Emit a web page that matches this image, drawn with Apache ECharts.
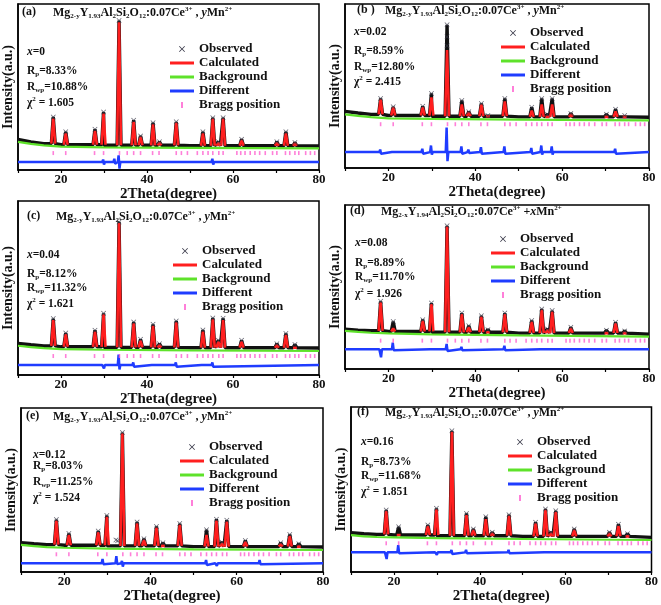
<!DOCTYPE html>
<html><head><meta charset="utf-8">
<script src="https://cdn.jsdelivr.net/npm/echarts@6/dist/echarts.min.js"></script>
<style>html,body{margin:0;padding:0;background:#fff}#c{width:661px;height:605px}</style>
</head><body><div id="c"></div>
<script>
// ---------------- DATA ----------------
const peakPos = [18.2, 21.1, 27.9, 29.9, 33.5, 36.9, 38.5, 41.4, 42.9, 46.8, 53.0, 55.3, 56.6, 57.7, 62.0, 70.2, 72.3, 74.4];
const braggPos = [18.2, 21.1, 27.8, 29.9, 33.6, 35.4, 36.9, 38.5, 41.3, 42.8, 46.8, 48.0, 49.4, 51.7, 53.0, 54.2, 55.3, 56.7, 57.7, 60.9, 61.8, 62.8, 64.0, 65.1, 66.2, 67.5, 69.2, 70.2, 72.2, 73.2, 74.4, 75.3, 76.9, 78.0, 79.0];
const bgX = [10, 13, 16, 20, 30, 50, 80];
const xTicks = [20, 40, 60, 80];

// (a) x = 0
const calcA = [31, 22, 23.5, 34, 89, 29, 20, 27.5, 16.5, 28.5, 22, 31, 16.5, 31, 18, 16.5, 22, 16];
const obsA = [32, 23, 24.5, 35, 90, 30, 20.5, 28.5, 17, 29, 23, 31.5, 17, 31.5, 18.5, 17, 23, 16.5];
const bgA = [16.9, 15.7, 14.8, 14.1, 13.6, 13.3, 13.0];
const baseA = [18.4, 16.9, 15.9, 15.2, 14.9, 14.6, 14.5];
const braggA = 10.2, diffA = 4.8;
const dPosA = [18.2, 21.1, 29.9, 32.5, 33.5, 36.9, 41.4, 46.8, 55.3, 57.7, 72.3];
const dUpA = [1, 1, 1.5, 2, 4, 1, 1, 1, 2, 1, 1];
const dDnA = [1, 0.8, 1.5, 1, 4, 1, 1, 1, 1.5, 1, 1];
const exXA = [], exYA = [];

// (b) x = 0.02
const calcB = [41.8, 37, 37, 43, 72, 38.8, 34, 38.8, 31.5, 40.6, 35, 38.8, 31.5, 38.8, 32.7, 31.5, 34.5, 31.5];
const obsB = [42.4, 37.3, 37.6, 45.5, 87.3, 41.2, 34.3, 39.4, 32, 42.4, 37, 42.4, 32.7, 42.4, 33.3, 32.7, 35.8, 32];
const bgB = [32.7, 31.8, 31, 30.3, 29.9, 29.5, 29.1];
const baseB = [34.5, 33.5, 32.7, 32, 31.6, 31.2, 30.9];
const braggB = 26.7, diffB = 9.7;
const dPosB = [18.2, 21.1, 27.9, 29.9, 33.5, 36.9, 38.5, 41.4, 46.8, 53.0, 55.3, 57.7, 62.0, 72.3];
const dUpB = [1.5, 1, 2, 4, 15, 3.5, 1.5, 3, 3.5, 2.5, 4, 3.5, 1, 2];
const dDnB = [1, 0.5, 1, 1.5, 5.5, 1, 0.5, 1, 1, 1, 1.5, 1.5, 0.5, 1];
const exXB = [33.5, 33.5], exYB = [80, 74.5];

// (c) x = 0.04
const calcC = [31.6, 23.4, 24.9, 34.9, 87.4, 29.7, 19.7, 28.3, 17.2, 30.3, 24.9, 32, 19.1, 31.6, 19.1, 17.2, 23, 16.7];
const obsC = [32.4, 24.2, 25.7, 35.5, 88, 30.5, 20.5, 29.1, 18, 31.1, 25.9, 32.8, 19.9, 32.6, 19.9, 18, 23.8, 17.5];
const bgC = [16.8, 16, 15.4, 14.9, 14.5, 14.1, 13.8];
const baseC = [18.2, 17.4, 16.7, 16.2, 15.9, 15.7, 15.5];
const braggC = 10.9, diffC = 5.7;
const dPosC = [18.2, 29.9, 33.5, 36.9, 41.4, 46.8, 53.0, 55.3];
const dUpC = [1, 1, 6, 1.5, 1, 1.5, 1, 1.5];
const dDnC = [1, 2, 2.5, 1, 1, 1, 1, 1];
const exXC = [], exYC = [];

// (d) x = 0.08
const calcD = [40.7, 24.8, 29.5, 39.6, 86.8, 33.5, 25.4, 31.9, 23.4, 33.5, 28.9, 36, 23.8, 35, 24.8, 23, 27.9, 22.6];
const obsD = [41.3, 28.9, 30.1, 40.2, 87.4, 34.1, 26.4, 32.5, 24, 34.1, 29.5, 36.6, 24.4, 35.6, 25.4, 23.6, 28.5, 23.2];
const bgD = [23.2, 22.6, 22.1, 21.7, 21.1, 20.5, 19.7];
const baseD = [24.2, 23.7, 23.3, 22.9, 22.4, 21.9, 21.2];
const braggD = 17.3, diffD = 12;
const dPosD = [18.2, 21.1, 29.9, 33.5, 36.9, 46.8, 55.3];
const dUpD = [0.5, 4, 1, 3.3, 1.5, 2.2, 1];
const dDnD = [4.9, 0.5, 1, 1, 0.5, 0.5, 1];
const exXD = [], exYD = [];

// (e) x = 0.12
const calcE = [31.3, 22.6, 24.2, 33.7, 84.6, 29.7, 19.5, 27, 17.1, 28.7, 22.6, 31.3, 17.5, 30.7, 18.5, 17.1, 22, 16.5];
const obsE = [32, 23.5, 25, 34.5, 85, 30.5, 20.3, 27.8, 17.8, 29.5, 25.8, 32.2, 18.2, 31.6, 19.2, 17.8, 22.8, 17.2];
const bgE = [16.5, 15.8, 15.2, 14.8, 14.3, 13.8, 13.4];
const baseE = [17.9, 17.2, 16.7, 16.3, 15.9, 15.5, 15.2];
const braggE = 10.8, diffE = 5.3;
const dPosE = [18.2, 29.0, 32.2, 33.5, 36.9, 41.4, 46.8, 53.0, 55.3, 65.4];
const dUpE = [1, 2.6, 4.4, 1.5, 1, 1, 1, 2, 1.2, 2];
const dDnE = [1, 0.5, 0.5, 2, 0.5, 0.5, 0.5, 1, 1.5, 0.5];
const exXE = [32.0, 32.4], exYE = [19.5, 19];

// (f) x = 0.16
const calcF = [37, 22.8, 27.9, 38, 85, 34.5, 25.5, 32.1, 23.5, 34.1, 29.5, 37.6, 23.5, 36.5, 25.5, 23.5, 27.9, 22.6];
const obsF = [37.6, 27.4, 28.5, 38.6, 85.6, 35.5, 26.1, 33.5, 24.1, 34.7, 30.1, 38.2, 24.1, 37.1, 26.1, 24.1, 28.9, 23.2];
const bgF = [22.4, 21.6, 21.2, 21, 20.5, 20, 19.4];
const baseF = [23.8, 23.2, 22.8, 22.4, 22, 21.6, 21];
const braggF = 17.4, diffF = 11.9;
const dPosF = [18.2, 21.1, 29.9, 33.5, 36.9, 46.8, 55.3, 72.3];
const dUpF = [0.5, 4.4, 0.5, 1.5, 1.5, 1.5, 1, 1];
const dDnF = [4, 0.5, 1.5, 1, 0.5, 0.5, 0.5, 0.5];
const exXF = [], exYF = [];

// Text
const tags = ['(a)', '(b )', '(c)', '(d)', '(e)', '(f)'];
const xVals = ['0', '0.02', '0.04', '0.08', '0.12', '0.16'];
const rpVals = ['8.33%', '8.59%', '8.12%', '8.89%', '8.03%', '8.73%'];
const rwpVals = ['10.88%', '12.80%', '11.32%', '11.70%', '11.25%', '11.68%'];
const chiVals = ['1.605', '2.415', '1.621', '1.926', '1.524', '1.851'];
const legendNames = ['Observed', 'Calculated', 'Background', 'Different', 'Bragg position'];

// ---------------- LAYOUT ----------------
const FONT = '"Liberation Serif", "DejaVu Serif", serif';
const RED = '#ff1f1f', GREEN = '#5ee22a', BLUE = '#1f3cff', PINK = '#ff5fcf', BLACK = '#111';
const XPATH = 'path://M0,1L1,0L5,4L9,0L10,1L6,5L10,9L9,10L5,6L1,10L0,9L4,5Z';
const HALF = 0.45;

const panels = [
  {calc: calcA, obs: obsA, bg: bgA, base: baseA, bragg: braggA, diff: diffA, dPos: dPosA, dUp: dUpA, dDn: dDnA, exX: exXA, exY: exYA,
   grid: {left: 16, top: 4, width: 303, height: 166}, nameGap: 16, yGap: 3,
   tag: [22, 6], formula: 53, ann: [27, [46, 65, 81, 96]], leg: [170, 42], formulaType: 0},
  {calc: calcB, obs: obsB, bg: bgB, base: baseB, bragg: braggB, diff: diffB, dPos: dPosB, dUp: dUpB, dDn: dDnB, exX: exXB, exY: exYB,
   grid: {left: 345, top: 4, width: 304, height: 164}, nameGap: 16, yGap: 3,
   tag: [357, 4], formula: 385, ann: [354, [26, 45, 61, 75]], leg: [501, 26], formulaType: 0},
  {calc: calcC, obs: obsC, bg: bgC, base: baseC, bragg: braggC, diff: diffC, dPos: dPosC, dUp: dUpC, dDn: dDnC, exX: exXC, exY: exYC,
   grid: {left: 16, top: 201, width: 303, height: 174}, nameGap: 15, yGap: 3,
   tag: [27, 210], formula: 56, ann: [27, [249, 268, 282, 297]], leg: [173, 244], formulaType: 0},
  {calc: calcD, obs: obsD, bg: bgD, base: baseD, bragg: braggD, diff: diffD, dPos: dPosD, dUp: dUpD, dDn: dDnD, exX: exXD, exY: exYD,
   grid: {left: 345, top: 205, width: 304, height: 164}, nameGap: 15, yGap: 3,
   tag: [350, 205], formula: 381, ann: [355, [237, 257, 271, 287]], leg: [491, 232], formulaType: 1},
  {calc: calcE, obs: obsE, bg: bgE, base: baseE, bragg: braggE, diff: diffE, dPos: dPosE, dUp: dUpE, dDn: dDnE, exX: exXE, exY: exYE,
   grid: {left: 21, top: 408, width: 302, height: 164}, nameGap: 15, yGap: 3,
   tag: [26, 410], formula: 53, ann: [33, [449, 460, 476, 491]], leg: [180, 440], formulaType: 0},
  {calc: calcF, obs: obsF, bg: bgF, base: baseF, bragg: braggF, diff: diffF, dPos: dPosF, dUp: dUpF, dDn: dDnF, exX: exXF, exY: exYF,
   grid: {left: 351, top: 407, width: 302, height: 165}, nameGap: 16, yGap: 3,
   tag: [357, 406], formula: 385, ann: [361, [436, 456, 470, 485]], leg: [508, 435], formulaType: 0}
];

// ---------------- BUILD ----------------
function stepBase(base, x) {
  let v = base[0];
  for (let i = 0; i < bgX.length; i++) if (bgX[i] <= x) v = base[i];
  return v;
}
function obsLine(p) {
  const pts = bgX.map((x, i) => [x, p.base[i]]);
  peakPos.forEach((x, i) => {
    const f = stepBase(p.base, x);
    pts.push([x - HALF, f], [x, p.obs[i]], [x + HALF, f]);
  });
  return pts.sort((a, b) => a[0] - b[0]);
}
function calcLine(p) {
  const pts = [];
  peakPos.forEach((x, i) => {
    const f = stepBase(p.base, x);
    pts.push([x - HALF, f], [x, p.calc[i]], [x + HALF, f], null);
  });
  return pts;
}
function diffLine(p) {
  const pts = [[10, p.diff]];
  p.dPos.forEach((x, i) => {
    pts.push([x - 0.3, p.diff], [x - 0.1, p.diff + p.dUp[i]], [x + 0.1, p.diff - p.dDn[i]], [x + 0.3, p.diff]);
  });
  pts.push([80, p.diff]);
  return pts;
}

const option = {animation: false, grid: [], xAxis: [], yAxis: [], series: [], legend: [], graphic: []};
const labelStyle = {fontFamily: FONT, fontWeight: 'bold', color: BLACK};

panels.forEach((p, k) => {
  option.grid.push(Object.assign({show: true, borderColor: '#000', borderWidth: 1.5, containLabel: false}, p.grid));
  option.xAxis.push({
    gridIndex: k, type: 'value', min: 10, max: 80, interval: 10,
    name: '2Theta(degree)', nameLocation: 'middle', nameGap: p.nameGap,
    nameTextStyle: Object.assign({fontSize: 15}, labelStyle),
    axisLine: {lineStyle: {color: '#000', width: 1.5}},
    axisTick: {length: 3, lineStyle: {color: '#000', width: 1.2}},
    axisLabel: Object.assign({fontSize: 13, margin: 3, formatter: v => xTicks.indexOf(v) >= 0 ? String(v) : ''}, labelStyle),
    splitLine: {show: false}
  });
  option.yAxis.push({
    gridIndex: k, type: 'value', min: 0, max: 100,
    name: 'Intensity(a.u.)', nameLocation: 'middle', nameGap: p.yGap, nameRotate: 90,
    nameTextStyle: Object.assign({fontSize: 14}, labelStyle),
    axisLine: {show: true, lineStyle: {color: '#000', width: 1.5}},
    axisTick: {show: false}, axisLabel: {show: false}, splitLine: {show: false}
  });
  option.series.push(
    {name: 'Observed', type: 'line', xAxisIndex: k, yAxisIndex: k, data: obsLine(p), symbol: 'none',
     lineStyle: {color: BLACK, width: 3.4}, itemStyle: {color: BLACK}, z: 2, silent: true},
    {name: 'Calculated', type: 'line', xAxisIndex: k, yAxisIndex: k, data: calcLine(p), symbol: 'none', connectNulls: false,
     lineStyle: {color: RED, width: 2.6}, itemStyle: {color: RED}, z: 3, silent: true},
    {name: 'Background', type: 'line', xAxisIndex: k, yAxisIndex: k, data: bgX.map((x, i) => [x, p.bg[i]]), symbol: 'none',
     lineStyle: {color: GREEN, width: 2.2}, itemStyle: {color: GREEN}, z: 4, silent: true},
    {name: 'Observed', type: 'scatter', xAxisIndex: k, yAxisIndex: k,
     data: peakPos.map((x, i) => [x, p.obs[i]]).concat(p.exX.map((x, i) => [x, p.exY[i]])),
     symbol: XPATH, symbolSize: 5, itemStyle: {color: '#3a3a4a'}, z: 5, silent: true},
    {name: 'Bragg position', type: 'scatter', xAxisIndex: k, yAxisIndex: k, data: braggPos.map(x => [x, p.bragg]),
     symbol: 'rect', symbolSize: [1.6, 4], itemStyle: {color: PINK}, z: 4, silent: true},
    {name: 'Different', type: 'line', xAxisIndex: k, yAxisIndex: k, data: diffLine(p), symbol: 'none',
     lineStyle: {color: BLUE, width: 2.5}, itemStyle: {color: BLUE}, z: 4, silent: true}
  );
  option.legend.push({
    orient: 'vertical', left: p.leg[0], top: p.leg[1], itemWidth: 24, itemHeight: 6, itemGap: 0, padding: 0,
    selectedMode: false,
    textStyle: {fontFamily: FONT, fontWeight: 'bold', fontSize: 13, color: BLACK, lineHeight: 14},
    data: [
      {name: legendNames[0], icon: XPATH, itemStyle: {color: '#3a3a4a'}},
      {name: legendNames[1], icon: 'path://M0,0h24v3h-24z', itemStyle: {color: RED}},
      {name: legendNames[2], icon: 'path://M0,0h24v3h-24z', itemStyle: {color: GREEN}},
      {name: legendNames[3], icon: 'path://M0,0h24v3h-24z', itemStyle: {color: BLUE}},
      {name: legendNames[4], icon: 'path://M0,0h1.2v3.5h-1.2z', itemStyle: {color: PINK}}
    ]
  });
  const rich = {
    b: {fontFamily: FONT, fontWeight: 'bold', fontSize: 12, lineHeight: 14, fill: BLACK},
    bi: {fontFamily: FONT, fontWeight: 'bold', fontStyle: 'italic', fontSize: 12, lineHeight: 14, fill: BLACK},
    s: {fontFamily: FONT, fontWeight: 'bold', fontSize: 7, lineHeight: 8, verticalAlign: 'bottom', fill: BLACK},
    p: {fontFamily: FONT, fontWeight: 'bold', fontSize: 7, lineHeight: 8, verticalAlign: 'top', fill: BLACK},
    a: {fontFamily: FONT, fontWeight: 'bold', fontSize: 11.5, lineHeight: 14, fill: BLACK},
    ai: {fontFamily: FONT, fontWeight: 'bold', fontStyle: 'italic', fontSize: 11.5, lineHeight: 14, fill: BLACK}
  };
  const formula = p.formulaType === 1
    ? '{b|Mg}{s|2-x}{b|Y}{s|1.94}{b|Al}{s|2}{b|Si}{s|2}{b|O}{s|12}{b|:0.07Ce}{p|3+}{b| +}{bi|x}{b|Mn}{p|2+}'
    : '{b|Mg}{s|2-y}{b|Y}{s|1.93}{b|Al}{s|2}{b|Si}{s|2}{b|O}{s|12}{b|:0.07Ce}{p|3+}{b| , }{bi|y}{b|Mn}{p|2+}';
  const t = (left, top, text) => ({type: 'text', left: left, top: top, z: 10, style: {text: text, rich: rich, fill: BLACK}});
  option.graphic.push(
    t(p.tag[0], p.tag[1], '{b|' + tags[k] + '}'),
    t(p.formula, p.tag[1], formula),
    t(p.ann[0], p.ann[1][0], '{ai|x}{a|=' + xVals[k] + '}'),
    t(p.ann[0], p.ann[1][1], '{a|R}{s|p}{a|=' + rpVals[k] + '}'),
    t(p.ann[0], p.ann[1][2], '{a|R}{s|wp}{a|=' + rwpVals[k] + '}'),
    t(p.ann[0], p.ann[1][3], '{a|χ}{p|2}{a| = ' + chiVals[k] + '}')
  );
});

const chart = echarts.init(document.getElementById('c'), null, {renderer: 'canvas'});
chart.setOption(option);
</script></body></html>
